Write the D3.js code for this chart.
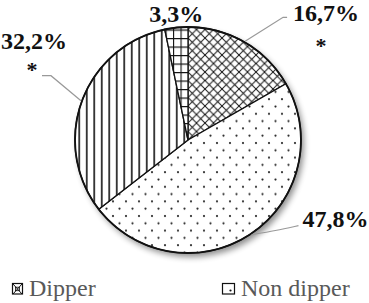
<!DOCTYPE html>
<html>
<head>
<meta charset="utf-8">
<script src="https://cdn.jsdelivr.net/npm/d3@7"></script>
</head>
<body style="margin:0">
<script>
// slice data, clockwise from 12 o'clock
const categories = ['Dipper', 'Non dipper', 'Reverse dipper', 'Extreme dipper'];
const shares = [16.7, 47.8, 32.2, 3.3];
const shareLabels = ['16,7%', '47,8%', '32,2%', '3,3%'];
const significant = [true, false, true, false];
const legendItems = ['Dipper', 'Non dipper'];

const FONT = "'Liberation Serif'";
const width = 369, height = 303;
const cx = 188, cy = 140, radius = 113;

const svg = d3.select('body')
  .append('svg')
  .attr('width', width)
  .attr('height', height);

const defs = svg.append('defs');

// drop shadow under the pie
const shadow = defs.append('filter')
  .attr('id', 'shadow')
  .attr('x', '-20%').attr('y', '-20%')
  .attr('width', '140%').attr('height', '140%');
shadow.append('feGaussianBlur').attr('in', 'SourceAlpha').attr('stdDeviation', 3);
shadow.append('feOffset').attr('dx', 3).attr('dy', 4).attr('result', 'off');
shadow.append('feComponentTransfer').append('feFuncA').attr('type', 'linear').attr('slope', 0.45);
const merge = shadow.append('feMerge');
merge.append('feMergeNode');
merge.append('feMergeNode').attr('in', 'SourceGraphic');

// hatch patterns
const cross = defs.append('pattern').attr('id', 'p-cross')
  .attr('patternUnits', 'userSpaceOnUse').attr('width', 8.5).attr('height', 8.5);
cross.append('rect').attr('width', 8.5).attr('height', 8.5).attr('fill', '#fff');
cross.append('path').attr('d', 'M0,0L8.5,8.5M8.5,0L0,8.5')
  .attr('stroke', '#111').attr('stroke-width', 1);

const dots = defs.append('pattern').attr('id', 'p-dots')
  .attr('patternUnits', 'userSpaceOnUse').attr('width', 13).attr('height', 14.6);
dots.append('rect').attr('width', 13).attr('height', 14.6).attr('fill', '#fff');
dots.append('circle').attr('cx', 3).attr('cy', 3).attr('r', 1.1).attr('fill', '#222');
dots.append('circle').attr('cx', 9.5).attr('cy', 10.3).attr('r', 1.1).attr('fill', '#222');

const vert = defs.append('pattern').attr('id', 'p-vert')
  .attr('patternUnits', 'userSpaceOnUse').attr('width', 7.5).attr('height', 10);
vert.append('rect').attr('width', 7.5).attr('height', 10).attr('fill', '#fff');
vert.append('path').attr('d', 'M3.75,0V10').attr('stroke', '#111').attr('stroke-width', 1.6);

const grid = defs.append('pattern').attr('id', 'p-grid')
  .attr('patternUnits', 'userSpaceOnUse').attr('width', 7.5).attr('height', 8.5);
grid.append('rect').attr('width', 7.5).attr('height', 8.5).attr('fill', '#fff');
grid.append('path').attr('d', 'M0.5,0V8.5M0,0.5H7.5')
  .attr('stroke', '#111').attr('stroke-width', 1.2);

const fills = ['url(#p-cross)', 'url(#p-dots)', 'url(#p-vert)', 'url(#p-grid)'];

const pie = d3.pie().sort(null).value(d => d)(shares);
const arc = d3.arc().innerRadius(0).outerRadius(radius);

const g = svg.append('g').attr('transform', `translate(${cx},${cy})`);

g.append('circle').attr('r', radius).attr('fill', '#fff').attr('filter', 'url(#shadow)');

g.selectAll('path.slice')
  .data(pie)
  .join('path')
  .attr('class', 'slice')
  .attr('d', arc)
  .attr('fill', (d, i) => fills[i])
  .attr('stroke', '#111')
  .attr('stroke-width', 1.3);

g.append('circle').attr('r', radius).attr('fill', 'none')
  .attr('stroke', '#111').attr('stroke-width', 1.8);

// label layout relative to the rim point at the slice middle
const layout = [
  { leader: [[38, -24], [42, -24]], text: [48, -20], anchor: 'start', star: [76, 12] },
  { leader: [[24, -4], [47, -9]], text: [51, -8], anchor: 'start', star: null },
  { leader: [[-30, -25], [-39, -25]], text: [-47, -52], anchor: 'middle', star: [-49, -24] },
  { leader: null, text: [0, -5], anchor: 'middle', star: null }
];

const rim = d => {
  const a = (d.startAngle + d.endAngle) / 2;
  return [Math.sin(a) * (radius + 1), -Math.cos(a) * (radius + 1)];
};

const labelG = g.append('g');
pie.forEach((d, i) => {
  const [rx, ry] = rim(d);
  const L = layout[i];
  if (L.leader) {
    const pts = [[rx, ry]].concat(L.leader.map(p => [rx + p[0], ry + p[1]]));
    labelG.append('path')
      .attr('d', d3.line().curve(i === 1 ? d3.curveBasis : d3.curveLinear)(pts))
      .attr('fill', 'none')
      .attr('stroke', '#999')
      .attr('stroke-width', 1.2);
  }
  labelG.append('text')
    .attr('x', rx + L.text[0])
    .attr('y', ry + L.text[1])
    .attr('text-anchor', L.anchor)
    .style('font-family', FONT)
    .attr('font-weight', 'bold')
    .attr('font-size', 24)
    .attr('fill', '#111')
    .text(shareLabels[i]);
  if (significant[i] && L.star) {
    labelG.append('text')
      .attr('x', rx + L.star[0])
      .attr('y', ry + L.star[1])
      .attr('text-anchor', 'middle')
      .style('font-family', FONT)
      .attr('font-weight', 'bold')
      .attr('font-size', 22)
      .attr('fill', '#111')
      .text('*');
  }
});

// legend
const legendX = [12, 222];
const legend = svg.append('g');
legendItems.forEach((name, i) => {
  const x = legendX[i], y = 283;
  const item = legend.append('g').attr('transform', `translate(${x},${y})`);
  const w = i === 0 ? 10 : 12;
  item.append('rect').attr('x', 0.5).attr('y', 0.5).attr('width', w).attr('height', 10.5)
    .attr('fill', '#fff').attr('stroke', '#111').attr('stroke-width', 1.2);
  if (i === 0) {
    item.append('path').attr('d', `M1,1L${w},11M${w},1L1,11`)
      .attr('stroke', '#111').attr('stroke-width', 1);
    item.append('rect').attr('x', w / 2 - 1.5).attr('y', 4.2).attr('width', 4).attr('height', 3.5)
      .attr('fill', 'none').attr('stroke', '#111').attr('stroke-width', 0.8);
  } else {
    item.append('circle').attr('cx', 8.5).attr('cy', 7.5).attr('r', 1.1).attr('fill', '#111');
  }
  legend.append('text')
    .attr('x', x + (i === 0 ? 17 : 19))
    .attr('y', 296)
    .style('font-family', FONT)
    .attr('font-size', 24)
    .attr('fill', '#595959')
    .text(name);
});
</script>
</body>
</html>
